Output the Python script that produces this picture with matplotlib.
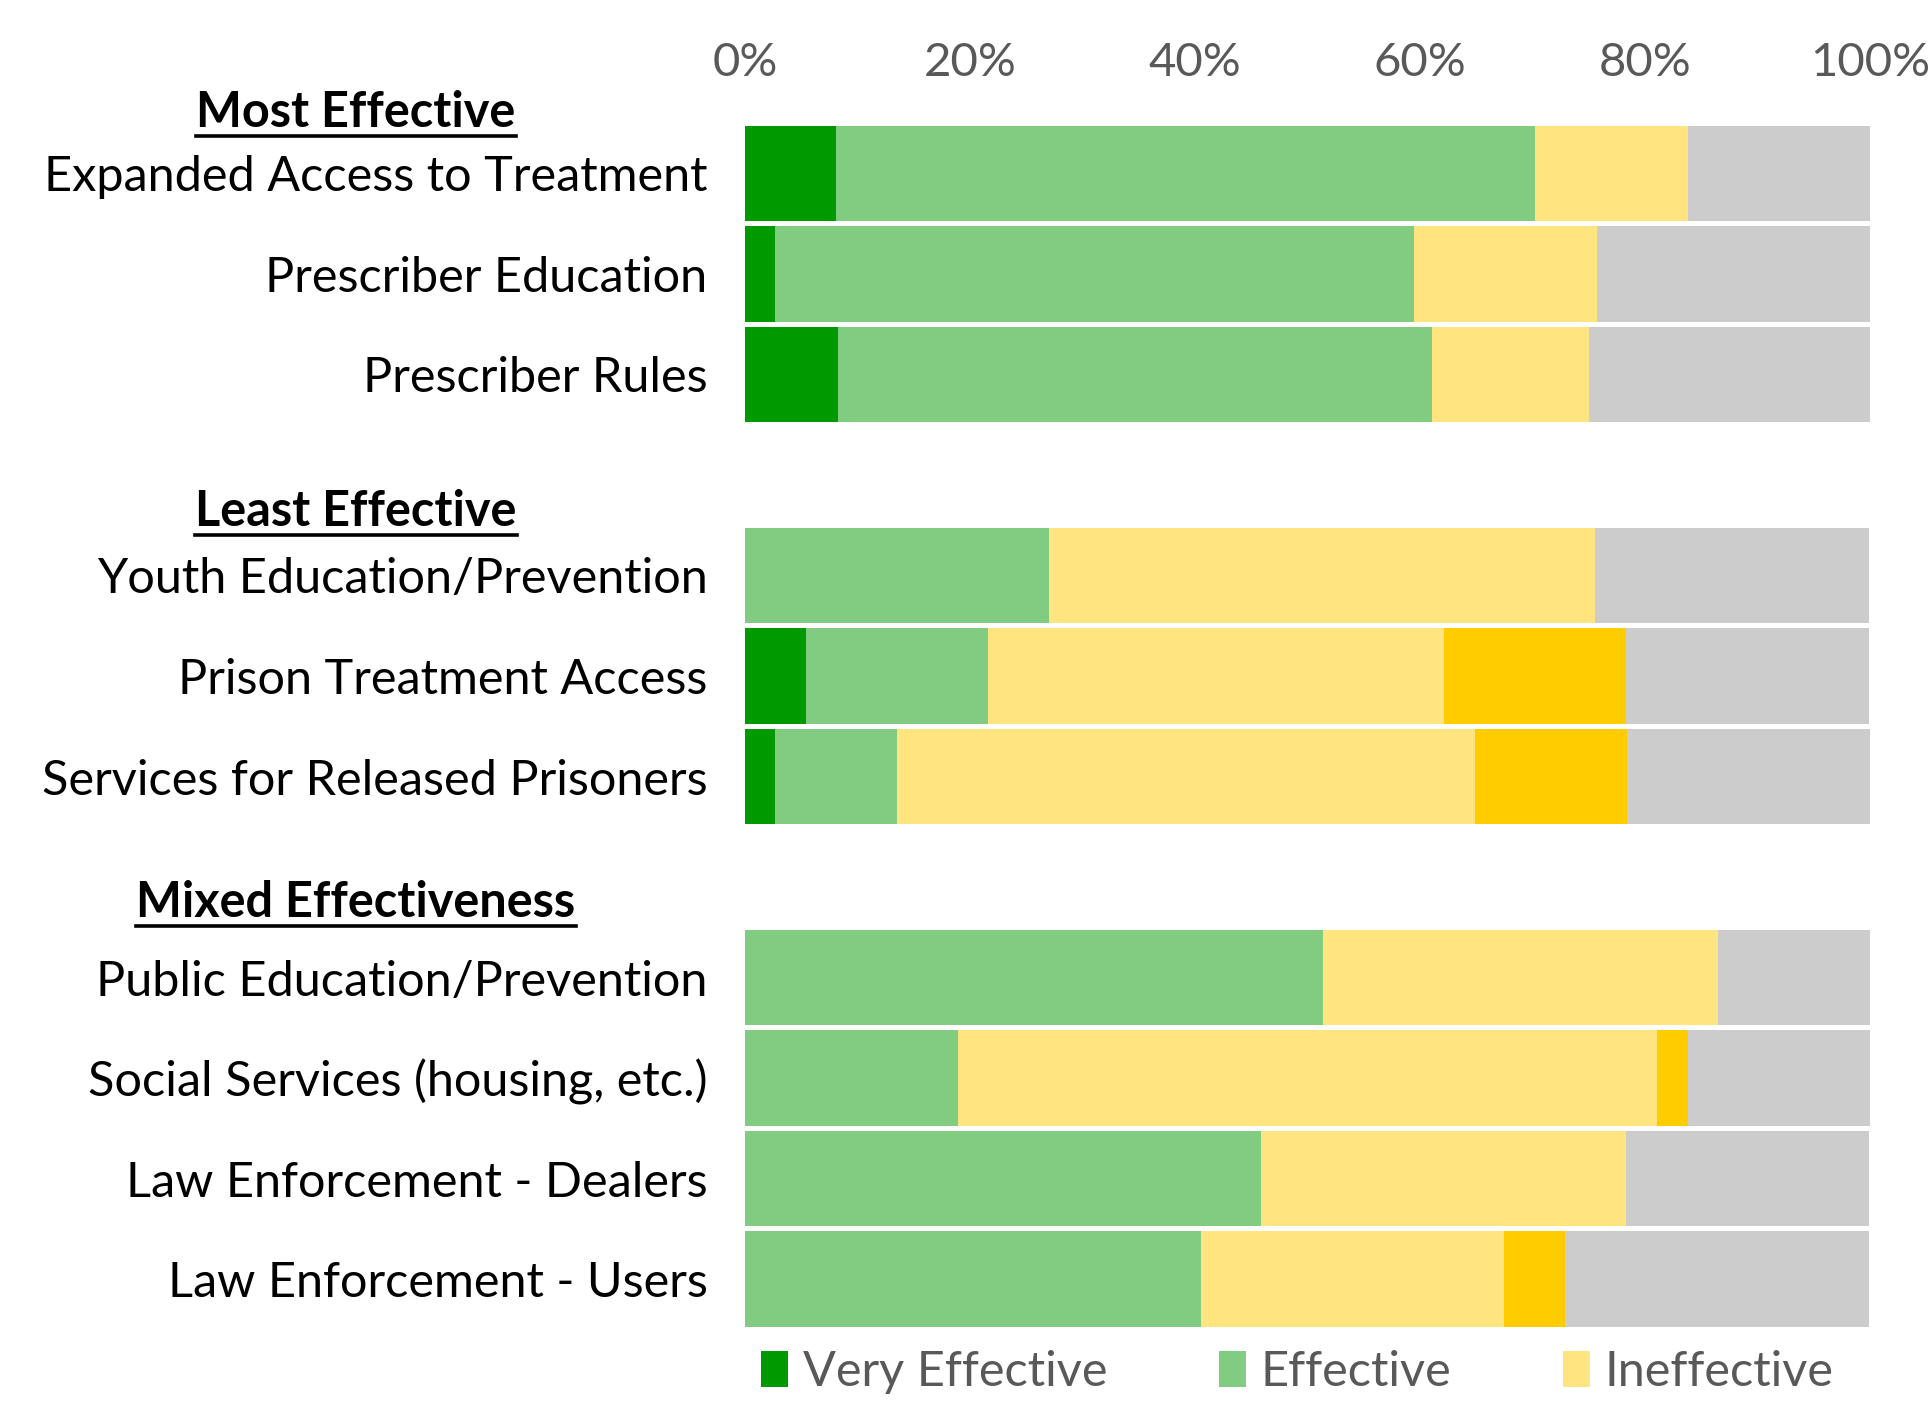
import matplotlib
matplotlib.use("Agg")
import matplotlib.pyplot as plt
from matplotlib.lines import Line2D
from matplotlib.transforms import blended_transform_factory

plt.rcParams['font.family'] = ['Lato', 'DejaVu Sans']

# categories, grouped
categories = [
    "Expanded Access to Treatment", "Prescriber Education", "Prescriber Rules",
    "Youth Education/Prevention", "Prison Treatment Access", "Services for Released Prisoners",
    "Public Education/Prevention", "Social Services (housing, etc.)",
    "Law Enforcement - Dealers", "Law Enforcement - Users",
]
positions = [0, 1, 2, 4, 5, 6, 8, 9, 10, 11]
groups = ["Most Effective", "Least Effective", "Mixed Effectiveness"]
group_y = [-0.60, 3.36, 7.25]

# shares in percent
very_effective = [8.1, 2.7, 8.3, 0, 5.4, 2.7, 0, 0, 0, 0]
effective = [62.1, 56.8, 52.8, 27.0, 16.2, 10.8, 51.4, 18.9, 45.9, 40.5]
ineffective = [13.6, 16.2, 13.9, 48.6, 40.5, 51.4, 35.1, 62.2, 32.4, 27.0]
very_ineffective = [0, 0, 0, 0, 16.2, 13.5, 0, 2.7, 0, 5.4]
dont_know = [16.2, 24.3, 25.0, 24.3, 21.6, 21.6, 13.5, 16.2, 21.6, 27.0]

series = [
    ("Very Effective", very_effective, "#009900"),
    ("Effective", effective, "#82CC82"),
    ("Ineffective", ineffective, "#FFE480"),
    ("Very Ineffective", very_ineffective, "#FFCC00"),
    ("Don't Know", dont_know, "#CCCCCC"),
]

W, H = 1930, 1403
FS = 35
fig = plt.figure(figsize=(W / 100, H / 100), dpi=100)
ax = fig.add_axes([745 / W, 1 - 1327 / H, (1870 - 745) / W, (1327 - 125.5) / H])

left = [0] * len(categories)
bars = []
for name, vals, col in series:
    b = ax.barh(positions, vals, left=left, height=0.95, color=col,
                linewidth=0, label=name)
    bars.append(b)
    left = [a + v for a, v in zip(left, vals)]

ax.set_xlim(0, 100)
ax.set_ylim(11.475, -0.475)
ax.xaxis.tick_top()
ax.set_xticks([0, 20, 40, 60, 80, 100])
ax.set_xticklabels(["0%", "20%", "40%", "60%", "80%", "100%"])
ax.tick_params(axis="x", length=0, pad=30, labelsize=34, labelcolor="#595959")
ax.set_yticks(positions)
ax.set_yticklabels(categories)
ax.tick_params(axis="y", length=0, pad=27, labelsize=FS)
for s in ax.spines.values():
    s.set_visible(False)

# group headers, bold and underlined
trans = blended_transform_factory(fig.transFigure, ax.transData)
header_texts = []
for g, gy in zip(groups, group_y):
    t = ax.text(356 / W, gy, g, transform=trans, ha="center", va="center",
                fontsize=FS, fontweight="bold")
    header_texts.append(t)

fig.canvas.draw()
r = fig.canvas.get_renderer()
for t in header_texts:
    bb = t.get_window_extent(r)
    y = bb.y0 - 1
    fig.add_artist(Line2D([bb.x0 / W, bb.x1 / W], [y / H, y / H], color="black", linewidth=2.6))

# only the first three legend entries fit on the page
fig.legend(handles=bars[:3], loc="center left", bbox_to_anchor=(737 / W, 1 - 1372 / H), ncol=3,
           frameon=False, fontsize=FS, labelcolor="#595959", borderpad=0,
           handlelength=0.55, handleheight=0.75, handletextpad=0.3, columnspacing=2.3)

fig.savefig("out.png", dpi=100)
